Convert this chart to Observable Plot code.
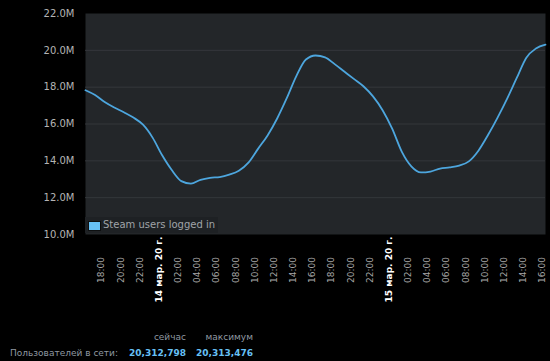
<!DOCTYPE html>
<html>
<head>
<meta charset="utf-8">
<script src="https://cdn.jsdelivr.net/npm/d3@7"></script>
<script src="https://cdn.jsdelivr.net/npm/@observablehq/plot@0.6"></script>
<style>
  html, body { margin: 0; padding: 0; background: #000; }
  #wrap { position: relative; width: 550px; height: 361px; background: #000; overflow: hidden; font-family: "DejaVu Sans", sans-serif; }
  #chart { position: absolute; left: 0; top: 0; }
  .abs { position: absolute; white-space: nowrap; line-height: 12px; }
</style>
</head>
<body>
<div id="wrap">
  <div id="chart"></div>
  <div id="legend" class="abs" style="left:85px; top:217px; width:133px; height:16px; background:#1e2124;">
    <span style="position:absolute; left:3px; top:4px; width:11px; height:8px; background:#67c1f5; border:1px solid #0d0f10;"></span>
    <span id="legendText" style="position:absolute; left:18px; top:2px; font-size:10px; color:#a0a4a8; line-height:12px;"></span>
  </div>
  <div id="footer"></div>
</div>
<script>
// ---- data ----
const times = [
  "2020-03-13 16:20","2020-03-13 17:20","2020-03-13 18:20","2020-03-13 19:20","2020-03-13 20:20",
  "2020-03-13 21:20","2020-03-13 22:20","2020-03-13 23:20","2020-03-14 00:20","2020-03-14 01:20",
  "2020-03-14 02:20","2020-03-14 03:20","2020-03-14 04:20","2020-03-14 05:20","2020-03-14 06:20",
  "2020-03-14 07:20","2020-03-14 08:20","2020-03-14 09:20","2020-03-14 10:20","2020-03-14 11:20",
  "2020-03-14 12:20","2020-03-14 13:20","2020-03-14 14:20","2020-03-14 15:20","2020-03-14 16:20",
  "2020-03-14 17:20","2020-03-14 18:20","2020-03-14 19:20","2020-03-14 20:20","2020-03-14 21:20",
  "2020-03-14 22:20","2020-03-14 23:20","2020-03-15 00:20","2020-03-15 01:20","2020-03-15 02:20",
  "2020-03-15 03:20","2020-03-15 04:20","2020-03-15 05:20","2020-03-15 06:20","2020-03-15 07:20",
  "2020-03-15 08:20","2020-03-15 09:20","2020-03-15 10:20","2020-03-15 11:20","2020-03-15 12:20",
  "2020-03-15 13:20","2020-03-15 14:20","2020-03-15 15:20","2020-03-15 16:20"
];
const usersMillions = [
  17.83, 17.57, 17.20, 16.90, 16.64,
  16.35, 15.96, 15.26, 14.30, 13.50,
  12.90, 12.76, 12.97, 13.08, 13.12,
  13.25, 13.46, 13.90, 14.65, 15.38,
  16.30, 17.40, 18.60, 19.50, 19.72,
  19.62, 19.25, 18.85, 18.45, 18.05,
  17.50, 16.75, 15.75, 14.50, 13.70,
  13.37, 13.42, 13.58, 13.64, 13.74,
  13.97, 14.55, 15.40, 16.35, 17.38,
  18.50, 19.60, 20.10, 20.31
];
const seriesName = "Steam users logged in";
const yTicks = [10e6, 12e6, 14e6, 16e6, 18e6, 20e6, 22e6];
const hourTicks = [
  "2020-03-13 18:00","2020-03-13 20:00","2020-03-13 22:00",
  "2020-03-14 02:00","2020-03-14 04:00","2020-03-14 06:00","2020-03-14 08:00","2020-03-14 10:00",
  "2020-03-14 12:00","2020-03-14 14:00","2020-03-14 16:00","2020-03-14 18:00","2020-03-14 20:00","2020-03-14 22:00",
  "2020-03-15 02:00","2020-03-15 04:00","2020-03-15 06:00","2020-03-15 08:00","2020-03-15 10:00",
  "2020-03-15 12:00","2020-03-15 14:00","2020-03-15 16:00"
];
const dateTicks = ["2020-03-14 00:00", "2020-03-15 00:00"];
const dateTickLabels = ["14 мар. 20 г.", "15 мар. 20 г."];
const footerRowLabel = "Пользователей в сети:";
const footerColumns = ["сейчас", "максимум"];
const footerValues = ["20,312,798", "20,313,476"];

// ---- build ----
const parse = d3.utcParse("%Y-%m-%d %H:%M");
const data = times.map((t, i) => ({time: parse(t), users: usersMillions[i] * 1e6}));
const hourDates = hourTicks.map(parse);
const dateDates = dateTicks.map(parse);
const fmtHour = d3.utcFormat("%H:%M");
const dateLabel = d => dateTickLabels[dateDates.findIndex(t => +t === +d)];

const chart = Plot.plot({
  width: 550,
  height: 320,
  marginLeft: 85,
  marginRight: 5,
  marginTop: 13,
  marginBottom: 86,
  style: {background: "#000", fontFamily: "DejaVu Sans, sans-serif", overflow: "visible"},
  x: {type: "utc", domain: [data[0].time, data[data.length - 1].time], label: null},
  y: {domain: [10e6, 22e6], label: null},
  marks: [
    Plot.frame({fill: "#232629", stroke: null}),
    Plot.gridY(yTicks.slice(1, -1), {stroke: "#34373b", strokeOpacity: 1}),
    Plot.axisY({ticks: yTicks, tickSize: 0, tickPadding: 11, fontSize: 10, fill: "#b4b4b4", label: null,
      tickFormat: d => (d / 1e6).toFixed(1) + "M"}),
    Plot.axisX({ticks: hourDates, tickSize: 0, tickPadding: 35.5, tickRotate: -90, label: null,
      textAnchor: "middle", lineAnchor: "middle", fontSize: 9, fill: "#a6a6a6", tickFormat: fmtHour}),
    Plot.axisX({ticks: dateDates, tickSize: 0, tickPadding: 35, tickRotate: -90, label: null,
      textAnchor: "middle", lineAnchor: "middle", fontSize: 9, fontWeight: "bold", fill: "#ffffff", tickFormat: dateLabel}),
    Plot.line(data, {x: "time", y: "users", stroke: "#4da6de", strokeWidth: 1.8, curve: "monotone-x"})
  ]
});
document.getElementById("chart").appendChild(chart);
document.getElementById("legendText").textContent = seriesName;

// footer
const footer = document.getElementById("footer");
function addText(txt, right, centerY, css) {
  const s = document.createElement("div");
  s.className = "abs";
  s.textContent = txt;
  s.style.cssText += css;
  s.style.top = (centerY - 6) + "px";
  s.style.right = (550 - right) + "px";
  footer.appendChild(s);
}
addText(footerColumns[0], 186, 337, "font-size:9px;color:#8f98a0;");
addText(footerColumns[1], 253, 337, "font-size:9px;color:#8f98a0;");
addText(footerRowLabel, 118, 353, "font-size:9px;color:#8f98a0;");
addText(footerValues[0], 186, 353, "font-size:9px;color:#67c1f5;font-weight:bold;");
addText(footerValues[1], 253, 353, "font-size:9px;color:#67c1f5;font-weight:bold;");
</script>
</body>
</html>
